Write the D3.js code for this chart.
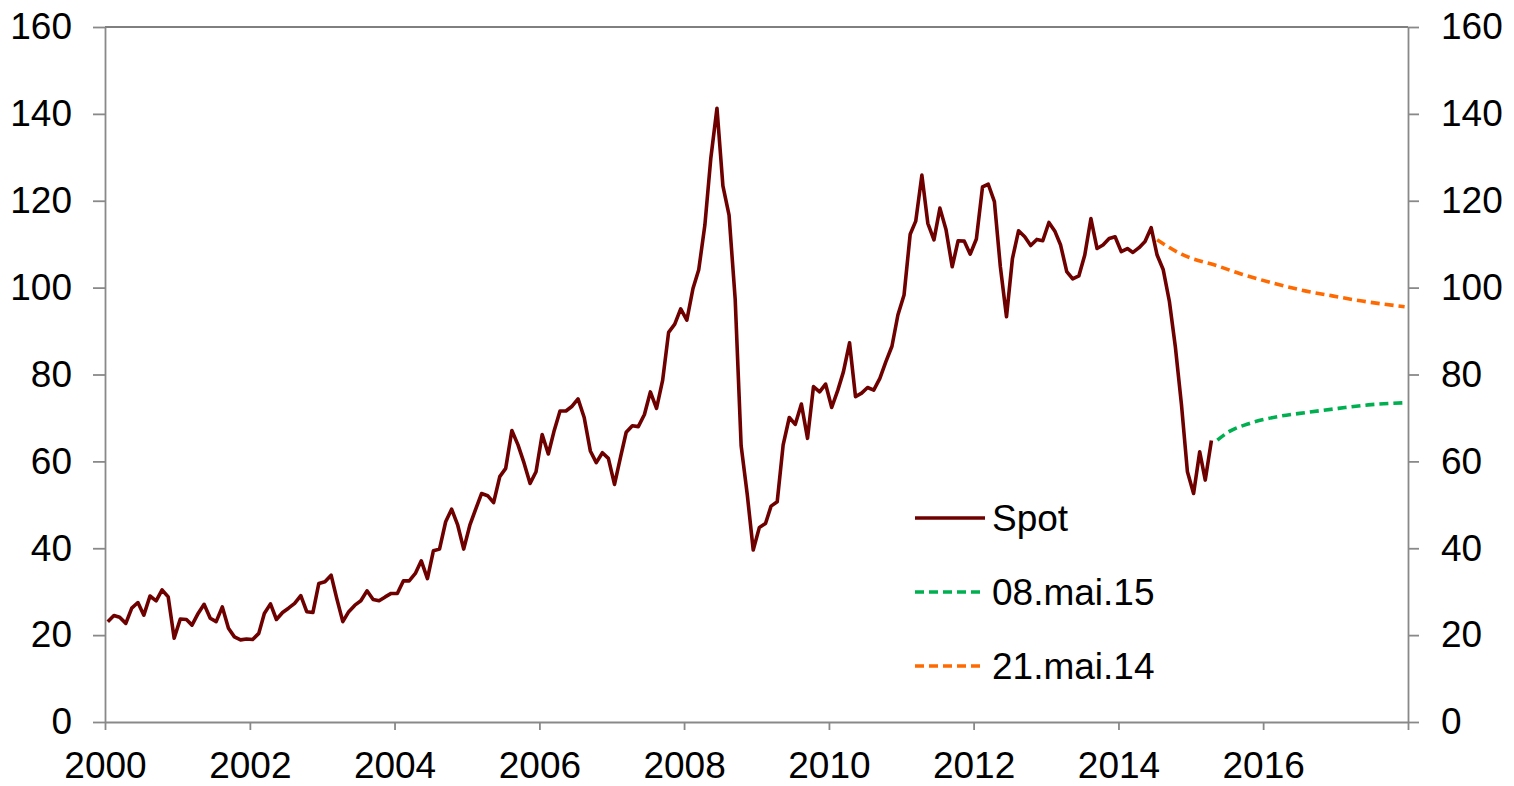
<!DOCTYPE html>
<html>
<head>
<meta charset="utf-8">
<script src="https://cdn.jsdelivr.net/npm/d3@7/dist/d3.min.js"></script>
<style>
  body { margin: 0; background: #fff; }
  text { font-family: "Liberation Sans", Arial, sans-serif; fill: #000; }
</style>
</head>
<body>
<script>
// monthly spot, Jan 2000 .. Apr 2015
var spot = [
  23.1, 24.5, 24.1, 22.7, 26.2, 27.5, 24.6, 29.0, 27.9, 30.4, 28.8, 19.3,
  23.7, 23.6, 22.3, 25.0, 27.1, 23.9, 23.1, 26.5, 21.6, 19.6, 18.9, 19.1,
  19.0, 20.4, 25.0, 27.2, 23.6, 25.2, 26.2, 27.3, 29.1, 25.4, 25.2, 31.9,
  32.3, 33.8, 28.5, 23.1, 25.4, 26.9, 27.9, 30.2, 28.2, 27.9, 28.8, 29.6,
  29.6, 32.5, 32.5, 34.2, 37.1, 33.0, 39.4, 39.8, 46.1, 49.0, 45.3, 39.8,
  45.3, 49.2, 52.6, 52.1, 50.5, 56.5, 58.4, 67.1, 63.8, 59.7, 54.9, 57.6,
  66.2, 61.7, 66.8, 71.6, 71.6, 72.7, 74.4, 70.1, 62.4, 59.7, 62.0, 60.7,
  54.7, 61.1, 66.7, 68.2, 68.0, 70.8, 76.0, 72.2, 78.7, 89.7, 91.6, 95.1,
  92.5, 99.8, 104.1, 114.4, 129.8, 141.3, 123.4, 116.7, 97.3, 63.6, 52.3, 39.6,
  44.8, 45.7, 49.7, 50.7, 63.8, 70.1, 68.5, 73.2, 65.3, 77.2, 76.0, 77.8,
  72.4, 76.4, 80.6, 87.3, 74.9, 75.7, 77.0, 76.4, 79.1, 82.9, 86.5, 93.7,
  98.3, 112.3, 115.3, 125.9, 114.8, 111.0, 118.3, 113.3, 104.8, 110.8, 110.7, 107.7,
  111.2, 123.2, 123.8, 119.8, 104.8, 93.3, 106.7, 113.1, 111.7, 109.7, 111.1, 110.8,
  115.0, 112.9, 109.8, 103.7, 102.0, 102.7, 107.5, 115.9, 109.0, 109.8, 111.3, 111.7,
  108.3, 109.0, 108.1, 109.2, 110.6, 113.8, 107.5, 104.1, 96.8, 86.4, 73.0, 57.6,
  52.6, 62.2, 55.7, 64.8
];

// forward curves
var fwd15Months = ["2015-05", "2015-07", "2015-10", "2016-03", "2016-08", "2017-01", "2017-06", "2017-12"];
var fwd15 = [64.9, 66.9, 68.6, 70.3, 71.3, 72.2, 73.0, 73.5];
var fwd14Months = ["2014-07", "2014-11", "2015-05", "2015-09", "2016-02", "2016-07", "2016-12", "2017-05", "2017-12"];
var fwd14 = [111.0, 107.7, 105.0, 103.1, 101.1, 99.4, 98.1, 96.9, 95.6];

var yTicks = [0, 20, 40, 60, 80, 100, 120, 140, 160];
var xTickYears = [2000, 2002, 2004, 2006, 2008, 2010, 2012, 2014, 2016, 2018];
var xLabelYears = [2000, 2002, 2004, 2006, 2008, 2010, 2012, 2014, 2016];
var legendNames = ["Spot", "08.mai.15", "21.mai.14"];
var colors = ["#6e0000", "#00b050", "#ff6a00"];

var W = 1514, H = 786;
var plotL = 105, plotR = 1408, plotT = 27, plotB = 722;
var axisColor = "#898989";

var svg = d3.select("body").append("svg").attr("width", W).attr("height", H);

var x = d3.scaleTime().domain([new Date(2000, 0, 1), new Date(2018, 0, 1)]).range([plotL, plotR]);
var y = d3.scaleLinear().domain([0, 160]).range([plotB, plotT]);

var parseMonth = function(s) { var p = s.split("-"); return new Date(+p[0], +p[1] - 1, 15); };

var spotData = spot.map(function(v, i) { return { d: new Date(2000, i, 15), v: v }; });
var f15Data = fwd15.map(function(v, i) { return { d: parseMonth(fwd15Months[i]), v: v }; });
var f14Data = fwd14.map(function(v, i) { return { d: parseMonth(fwd14Months[i]), v: v }; });

// top border
svg.append("line").attr("x1", plotL).attr("x2", plotR).attr("y1", plotT).attr("y2", plotT)
  .attr("stroke", "#000").attr("stroke-width", 1);

// left axis
var yLeft = svg.append("g").attr("transform", "translate(" + plotL + ",0)")
  .call(d3.axisLeft(y).tickValues(yTicks).tickSize(12).tickPadding(21).tickSizeOuter(0));
// right axis
var yRight = svg.append("g").attr("transform", "translate(" + plotR + ",0)")
  .call(d3.axisRight(y).tickValues(yTicks).tickSize(11).tickPadding(22).tickSizeOuter(0));
// bottom axis
var xAxis = svg.append("g").attr("transform", "translate(0," + plotB + ")")
  .call(d3.axisBottom(x).tickValues(xTickYears.map(function(yr) { return new Date(yr, 0, 1); }))
    .tickSize(8).tickPadding(20).tickSizeOuter(0)
    .tickFormat(function(d) { return xLabelYears.indexOf(d.getFullYear()) >= 0 ? d.getFullYear() : ""; }));

[yLeft, yRight, xAxis].forEach(function(g) {
  g.selectAll("path, line").attr("stroke", axisColor).attr("stroke-width", 1.8);
  g.selectAll("text").style("font-size", "37px").attr("fill", "#000");
});
xAxis.selectAll("text").attr("dy", "0.75em");

var line = d3.line().x(function(d) { return x(d.d); }).y(function(d) { return y(d.v); });
var smooth = d3.line().curve(d3.curveMonotoneX).x(function(d) { return x(d.d); }).y(function(d) { return y(d.v); });

svg.append("path").datum(f14Data).attr("d", smooth).attr("fill", "none")
  .attr("stroke", colors[2]).attr("stroke-width", 3.6).attr("stroke-dasharray", "9,5");
svg.append("path").datum(f15Data).attr("d", smooth).attr("fill", "none")
  .attr("stroke", colors[1]).attr("stroke-width", 3.6).attr("stroke-dasharray", "9,5");
svg.append("path").datum(spotData).attr("d", line).attr("fill", "none")
  .attr("stroke", colors[0]).attr("stroke-width", 3.6).attr("stroke-linejoin", "round");

// legend
var legendY = [518, 592, 666];
var leg = svg.selectAll(".leg").data(legendNames).enter().append("g").attr("class", "leg")
  .attr("transform", function(d, i) { return "translate(915," + legendY[i] + ")"; });
leg.append("line").attr("x1", 0).attr("x2", 70).attr("y1", 0).attr("y2", 0)
  .attr("stroke", function(d, i) { return colors[i]; }).attr("stroke-width", 3.4)
  .attr("stroke-dasharray", function(d, i) { return i === 0 ? null : "9,5"; });
leg.append("text").attr("x", 77).attr("dy", "0.36em").style("font-size", "37px").text(function(d) { return d; });
</script>
</body>
</html>
